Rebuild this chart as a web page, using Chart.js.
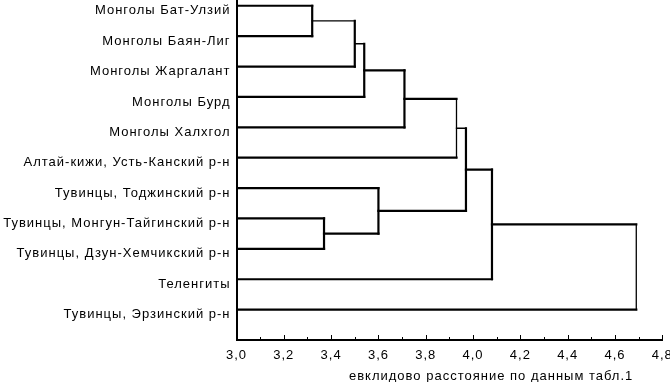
<!DOCTYPE html>
<html>
<head>
<meta charset="utf-8">
<script src="https://cdn.jsdelivr.net/npm/chart.js@4"></script>
<style>
    html, body { margin: 0; background: #fff; }
    #wrap { width: 670px; height: 382px; position: relative; }
</style>
</head>
<body>
<div id="wrap"><canvas id="dendro"></canvas></div>
<script>
// листья дендрограммы (сверху вниз)
const leaves = [
    "Монголы Бат-Улзий",
    "Монголы Баян-Лиг",
    "Монголы Жаргалант",
    "Монголы Бурд",
    "Монголы Халхгол",
    "Алтай-кижи, Усть-Канский р-н",
    "Тувинцы, Тоджинский р-н",
    "Тувинцы, Монгун-Тайгинский р-н",
    "Тувинцы, Дзун-Хемчикский р-н",
    "Теленгиты",
    "Тувинцы, Эрзинский р-н"
];

// объединения: [узел 1, узел 2, расстояние]; новые узлы нумеруются с 11
const merges = [
    [0, 1, 3.32],
    [11, 2, 3.50],
    [12, 3, 3.54],
    [13, 4, 3.71],
    [14, 5, 3.93],
    [7, 8, 3.37],
    [6, 16, 3.60],
    [15, 17, 3.97],
    [18, 9, 4.08],
    [19, 10, 4.69]
];

const xTicks = [3.0, 3.2, 3.4, 3.6, 3.8, 4.0, 4.2, 4.4, 4.6, 4.8];
const xMinorTicks = [3.1, 3.3, 3.5, 3.7, 3.9, 4.1, 4.3, 4.5, 4.7];
const axisTitle = "евклидово расстояние по данным табл.1";

// тонкие отрезки (как на оригинале)
const thinSegments = ["h11", "h12", "v15", "h15", "v20"];

const X_MIN = 3.0, X_MAX = 4.8;
const FONT = '"Liberation Sans", Arial, sans-serif';

Chart.defaults.font.family = FONT;
Chart.defaults.font.size = 13;
Chart.defaults.color = "#000";

const datasets = [];
function seg(key, pts) {
    datasets.push({
        data: pts,
        showLine: true,
        borderColor: "#000",
        borderWidth: thinSegments.includes(key) ? 1.3 : 2.2,
        borderCapStyle: "square",
        pointRadius: 0,
        fill: false
    });
}

const pos = leaves.map((_, i) => ({ x: X_MIN, y: i }));
merges.forEach(([a, b, h], k) => {
    const id = leaves.length + k;
    const pa = pos[a], pb = pos[b];
    seg("h" + a, [{ x: pa.x, y: pa.y }, { x: h, y: pa.y }]);
    seg("v" + id, [{ x: h, y: pa.y }, { x: h, y: pb.y }]);
    seg("h" + b, [{ x: pb.x, y: pb.y }, { x: h, y: pb.y }]);
    pos[id] = { x: h, y: (pa.y + pb.y) / 2 };
});

const fmt = v => Number(v).toFixed(1).replace(".", ",");

// разрядка текста как на скане
const spacing = {
    id: "spacing",
    beforeDraw(chart) { chart.ctx.letterSpacing = "1px"; }
};

// засечки оси X внутрь и подпись оси
const extras = {
    id: "extras",
    afterDraw(chart) {
        const { ctx, chartArea, scales: { x } } = chart;
        ctx.save();
        ctx.strokeStyle = "#000";
        ctx.lineWidth = 1;
        const mark = (v, len) => {
            const px = Math.round(x.getPixelForValue(v)) + 0.5;
            ctx.beginPath();
            ctx.moveTo(px, chartArea.bottom);
            ctx.lineTo(px, chartArea.bottom - len);
            ctx.stroke();
        };
        xTicks.forEach(v => mark(v, 5));
        xMinorTicks.forEach(v => mark(v, 3));

        ctx.font = "13px " + FONT;
        ctx.fillStyle = "#000";
        ctx.textAlign = "right";
        ctx.textBaseline = "middle";
        ctx.fillText(axisTitle, chartArea.right - 29, 376);
        ctx.restore();
    }
};

new Chart(document.getElementById("dendro"), {
    type: "scatter",
    data: { datasets },
    options: {
        responsive: true,
        maintainAspectRatio: false,
        animation: false,
        layout: { padding: { left: 0, right: 7.7, top: 0, bottom: 0 } },
        plugins: {
            legend: { display: false },
            tooltip: { enabled: false }
        },
        scales: {
            x: {
                type: "linear",
                min: X_MIN,
                max: X_MAX,
                afterBuildTicks: s => { s.ticks = xTicks.map(v => ({ value: v })); },
                afterFit: s => { s.height = 42; s.paddingLeft = 0; s.paddingRight = 0; },
                grid: { display: false, drawTicks: false },
                border: { display: true, color: "#000", width: 2 },
                ticks: { padding: 8, callback: v => fmt(v), maxRotation: 0, autoSkip: false }
            },
            y: {
                type: "linear",
                reverse: true,
                min: -0.19,
                max: 11,
                afterBuildTicks: s => { s.ticks = leaves.map((_, i) => ({ value: i })); },
                afterFit: s => { s.width = 236.5; s.paddingTop = 0; s.paddingBottom = 0; },
                grid: { display: false, drawTicks: false },
                border: { display: true, color: "#000", width: 2 },
                ticks: { padding: 6, labelOffset: 5, callback: v => leaves[v], autoSkip: false }
            }
        }
    },
    plugins: [spacing, extras]
});
</script>
</body>
</html>
